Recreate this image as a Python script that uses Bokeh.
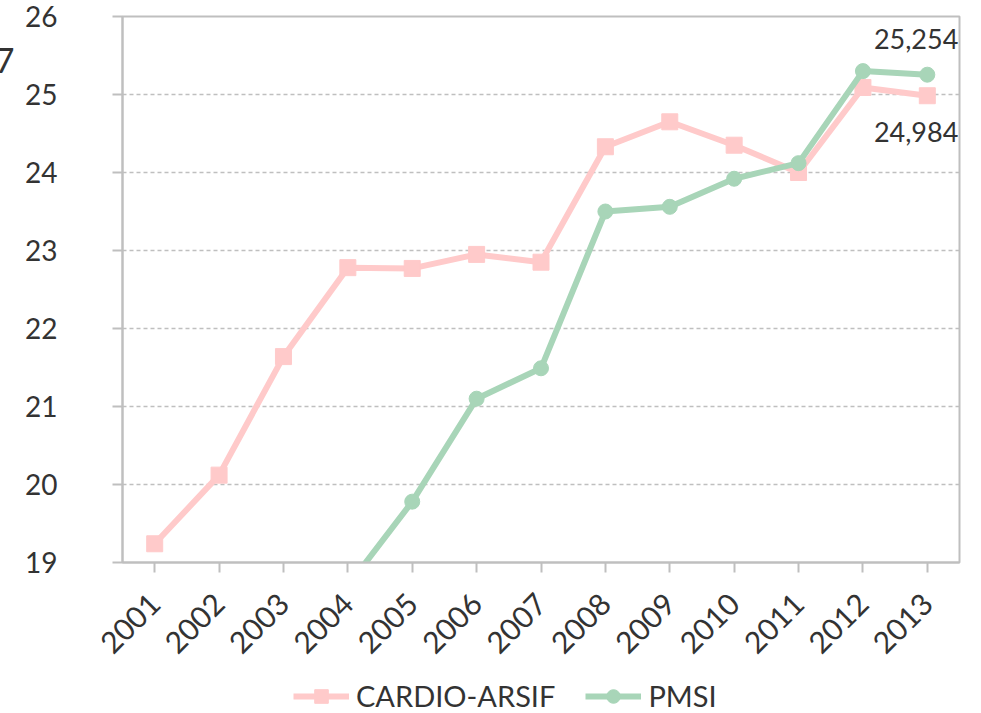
from bokeh.plotting import figure
from bokeh.layouts import column
from bokeh.core.properties import value
from bokeh.models import (ColumnDataSource, Range1d, FactorRange, FixedTicker, Legend,
                          LegendItem, LabelSet, LinearAxis)
from bokeh.embed import file_html
from bokeh.resources import INLINE

years = ["2001", "2002", "2003", "2004", "2005", "2006", "2007",
         "2008", "2009", "2010", "2011", "2012", "2013"]
cardio_values = [19.24, 20.12, 21.64, 22.78, 22.77, 22.95, 22.85,
                 24.33, 24.65, 24.35, 24.0, 25.09, 24.984]
pmsi_years = ["2004", "2005", "2006", "2007", "2008", "2009", "2010", "2011", "2012", "2013"]
pmsi_values = [18.7, 19.78, 21.10, 21.49, 23.50, 23.56, 23.92, 24.12, 25.30, 25.254]
y_ticks = [19, 20, 21, 22, 23, 24, 25, 26]
series_names = ["CARDIO-ARSIF", "PMSI"]

FONT = "Lato"
TXT = "#333333"
GRID = "#BFBFBF"
PINK = "#FFCACA"
GREEN = "#A8D5B8"

SHIFT = 10  # the whole chart is shifted left so the fragment at the left edge is cut off

x_range = FactorRange(*years, range_padding=0)
p = figure(width=981 + SHIFT, height=679, x_range=x_range,
           y_range=Range1d(19, 26), output_backend="svg", toolbar_location=None,
           min_border_left=122 + SHIFT, min_border_right=22, min_border_top=16,
           min_border_bottom=117)
p.background_fill_color = "white"
p.border_fill_color = "white"
p.outline_line_color = GRID
p.outline_line_width = 2

cardio_src = ColumnDataSource(dict(x=years, y=cardio_values))
pmsi_src = ColumnDataSource(dict(x=pmsi_years, y=pmsi_values))


def draw_series(fig):
    r = []
    r.append(fig.line("x", "y", source=cardio_src, line_color=PINK, line_width=6))
    r.append(fig.scatter("x", "y", source=cardio_src, marker="square", size=16,
                         fill_color=PINK, line_color=PINK))
    r.append(fig.line("x", "y", source=pmsi_src, line_color=GREEN, line_width=6))
    r.append(fig.scatter("x", "y", source=pmsi_src, marker="circle", size=15,
                         fill_color=GREEN, line_color=GREEN))
    return r


draw_series(p)

# axes
p.yaxis.ticker = FixedTicker(ticks=y_ticks)
for ax in (p.xaxis[0], p.yaxis[0]):
    ax.axis_line_color = GRID
    ax.axis_line_width = 2
    ax.major_tick_line_color = GRID
    ax.major_tick_line_width = 2
    ax.major_tick_out = 10
    ax.major_tick_in = 0
    ax.minor_tick_line_color = None
    ax.major_label_text_font = FONT
    ax.major_label_text_color = TXT
p.yaxis.major_label_text_font_size = "28px"
p.xaxis.major_label_text_font_size = "30px"
p.yaxis.major_label_standoff = 55
p.xaxis.major_label_standoff = 26
p.xaxis.major_label_orientation = 0.785398

# cut-off text fragment at the far left edge (drawn as an outer axis label)
frag_y = 25.44
ax7 = LinearAxis(ticker=FixedTicker(ticks=[frag_y]), major_label_overrides={frag_y: "7"},
                 axis_line_color=None, major_tick_line_color=None, minor_tick_line_color=None,
                 major_tick_out=0, major_tick_in=0, major_label_standoff=8,
                 major_label_text_font=FONT, major_label_text_font_size="34px",
                 major_label_text_color=TXT)
p.add_layout(ax7, "left")

p.xgrid.grid_line_color = None
p.ygrid.grid_line_color = GRID
p.ygrid.grid_line_width = 1.5
p.ygrid.grid_line_dash = "4 3"

# end-value labels
end_src = ColumnDataSource(dict(
    x=[pmsi_years[-1], years[-1]],
    y=[pmsi_values[-1], cardio_values[-1]],
    t=[f"{pmsi_values[-1]:.3f}".replace(".", ","), f"{cardio_values[-1]:.3f}".replace(".", ",")],
    dy=[36, -36],
))
p.add_layout(LabelSet(x="x", y="y", text="t", source=end_src, y_offset="dy", x_offset=31,
                      text_align="right", text_baseline="middle", text_font=value(FONT),
                      text_font_size=value("27px"), text_color=value(TXT)))

# legend strip below the chart (series drawn out of its visible y range)
lf = figure(width=981 + SHIFT, height=34, x_range=x_range, y_range=Range1d(100, 101),
            output_backend="svg", toolbar_location=None, x_axis_location=None,
            y_axis_location=None, min_border=0)
lf.outline_line_color = None
lf.grid.grid_line_color = None
lr = draw_series(lf)
legend = Legend(items=[LegendItem(label=series_names[0], renderers=[lr[0], lr[1]]),
                       LegendItem(label=series_names[1], renderers=[lr[2], lr[3]])],
                orientation="horizontal", location=(171, 0),
                glyph_width=56, glyph_height=34, label_height=34, label_standoff=7,
                spacing=30, padding=0, margin=0, border_line_color=None,
                background_fill_alpha=0, label_text_font=FONT,
                label_text_font_size="29px", label_text_color=TXT)
lf.add_layout(legend, "center")

layout = column(p, lf, spacing=0, margin=(0, 0, 0, -SHIFT))
open("out.html", "w").write(file_html(layout, INLINE))
